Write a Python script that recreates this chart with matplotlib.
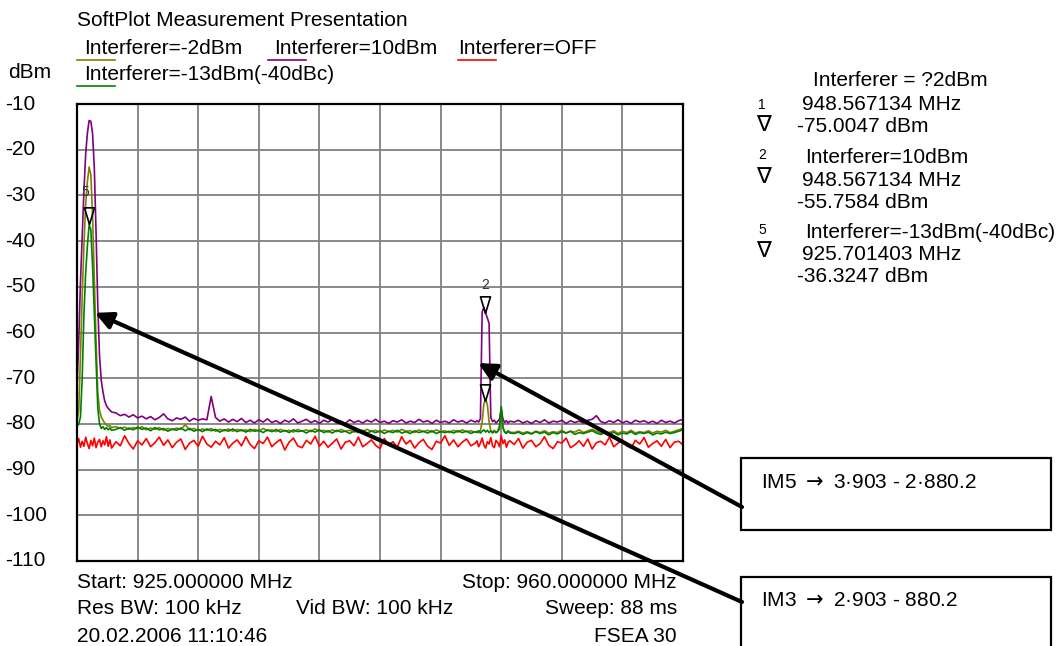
import matplotlib.pyplot as plt
import matplotlib.transforms as mtransforms
import numpy as np

plt.rcParams['font.family'] = ['Liberation Sans', 'DejaVu Sans']

# sweep points (MHz): finer steps around the two peaks
freq = np.concatenate([
    np.round(np.arange(925.0, 927.05, 0.1), 2),
    np.arange(927.25, 948.01, 0.25),
    np.round(np.arange(948.1, 950.05, 0.1), 2),
    np.arange(950.25, 960.01, 0.25),
])

trace_names = ['Interferer=-2dBm', 'Interferer=10dBm', 'Interferer=OFF', 'Interferer=-13dBm(-40dBc)']
trace_colors = ['#808000', '#800080', '#ff0000', '#008000']

# Interferer=-2dBm
olive = [
    -79.5, -77, -65, -52, -41, -32, -27, -23.8, -25.5, -34.5, -48, -62, -73, -77, -78.5, -79.2, -79.8, -80.2, -80.5, -80.4, -80.8,
    -80.6, -81.0, -80.7, -81.2, -80.8, -81.1, -80.6, -81.3, -80.9, -81.2, -80.8, -81.4, -81.0, -81.3, -80.9, -81.2,
    -80.2, -81.3, -81.0, -81.5, -81.1, -81.4, -81.0, -81.6, -81.2, -81.5, -81.1, -81.6, -81.2, -81.5, -81.3, -81.7,
    -81.2, -81.6, -81.0, -81.5, -81.3, -81.7, -81.2, -81.6, -81.4, -81.8, -81.2, -81.6, -81.3, -81.7, -81.1, -81.6,
    -81.4, -81.8, -81.3, -81.7, -81.2, -81.6, -81.4, -81.8, -81.3, -81.7, -81.2, -81.6, -81.4, -81.9, -81.3, -81.7,
    -81.4, -81.8, -81.2, -81.6, -81.5, -81.9, -81.3, -81.7, -81.4, -81.8, -81.3, -81.7, -81.5, -81.9, -81.4, -81.8,
    -81.3, -81.7, -81.5, -81.8,
    -81.6, -81.9, -81.4, -79.5, -75.6, -74.6, -75.8, -79.5, -81.5, -81.8, -81.4, -81.9, -81.5, -81.2, -76.3, -80.8,
    -81.7, -81.9, -81.5, -81.8,
    -81.9, -81.6, -82.0, -81.7, -82.1, -81.6, -81.9, -81.5, -82.0, -81.7, -81.9, -81.4, -82.0, -81.6, -81.8, -81.3,
    -81.9, -81.5, -81.2, -81.6, -82.0, -81.7, -81.9, -81.5, -82.1, -81.6, -81.9, -81.4, -82.0, -81.7, -81.9, -81.5,
    -82.0, -81.6, -81.8, -81.4, -81.9, -81.6, -81.3, -81.0,
]

# Interferer=10dBm
purple = [
    -72, -62, -49, -39, -29, -21, -16.4, -13.6, -13.8, -16.5, -24, -38, -54, -65, -70.5, -73, -75, -76, -76.6, -77, -77.4,
    -77.6, -78.2, -77.9, -78.5, -78.0, -78.7, -78.3, -78.9, -78.4, -79.1, -78.6, -77.8, -78.9, -79.3, -78.7, -79.0,
    -78.5, -79.4, -78.8, -79.2, -78.9, -79.1, -74.0, -78.6, -79.4, -78.9, -79.6, -79.0, -79.5, -78.8, -79.7, -79.2,
    -79.8, -79.1, -79.6, -78.9, -79.7, -79.3, -79.9, -79.2, -79.6, -78.9, -79.8, -79.4, -79.0, -79.7, -79.3, -79.9,
    -79.2, -79.6, -79.0, -79.8, -79.4, -79.9, -79.1, -79.7, -79.3, -79.8, -79.2, -79.6, -79.0, -79.7, -79.4, -79.9,
    -79.3, -79.6, -79.1, -79.8, -79.4, -79.7, -79.0, -79.6, -79.3, -79.9, -79.2, -79.7, -79.4, -79.8, -79.1, -79.6,
    -79.3, -79.8, -79.2, -79.6,
    -79.3, -79.6, -78.8, -55.5, -54.5, -55.8, -56.8, -58.0, -78.6, -79.5, -79.2, -79.8, -79.4, -79.0, -76.8, -78.9,
    -79.7, -79.3, -79.8, -79.4,
    -79.6, -79.2, -79.8, -79.4, -79.9, -79.3, -79.7, -79.1, -79.8, -79.4, -79.6, -79.2, -79.9, -79.3, -79.7, -79.4,
    -79.8, -79.2, -79.0, -78.2, -79.5, -79.8, -79.3, -79.7, -79.1, -79.8, -79.4, -79.9, -79.2, -79.6, -79.3, -79.8,
    -79.4, -79.9, -79.2, -79.7, -79.4, -79.8, -79.3, -79.0,
]

# Interferer=OFF
red = [
    -84.5, -83.2, -85.1, -83.8, -84.9, -82.9, -84.3, -85.4, -83.6, -84.8, -83.1, -85.2, -84.0, -83.4, -85.0, -83.7,
    -84.6, -82.8, -84.9, -83.5, -85.3,
    -83.9, -84.8, -82.6, -84.3, -85.5, -83.7, -84.6, -83.2, -85.0, -84.1, -82.9, -84.7, -83.5, -85.2, -84.0, -83.3,
    -85.6, -84.2, -83.6, -84.9, -82.7, -84.4, -85.1, -83.8, -84.6, -83.0, -85.3, -84.2, -83.5, -84.8, -82.8, -84.5,
    -85.4, -83.7, -84.3, -82.9, -85.0, -84.1, -83.4, -85.7, -84.0, -83.1, -84.8, -85.2, -83.6, -84.4, -82.7, -84.9,
    -83.8, -85.1, -84.2, -83.3, -85.5, -84.0, -83.7, -84.8, -82.9, -85.0, -84.3, -83.5, -84.7, -85.4, -83.2, -84.6,
    -83.9, -85.1, -82.8, -84.4, -83.6, -85.3, -84.1, -83.4, -84.9, -85.6, -83.8, -84.2, -82.6, -84.7, -83.5, -85.0,
    -84.0, -83.3, -84.8, -84.2,
    -83.7, -85.0, -84.2, -83.1, -84.6, -85.3, -83.9, -84.4, -83.0, -84.8, -85.2, -83.6, -84.1, -85.0, -82.6, -84.3,
    -83.5, -85.1, -84.0, -83.7,
    -84.5, -83.2, -85.3, -84.0, -83.6, -85.0, -84.3, -82.8, -84.7, -85.4, -83.9, -84.2, -83.1, -85.2, -84.6, -83.7,
    -84.9, -83.3, -85.5, -84.1, -83.8, -84.6, -82.9, -85.0, -84.2, -83.5, -84.8, -85.3, -83.6, -84.4, -83.0, -85.1,
    -84.3, -83.7, -84.9, -83.4, -85.2, -84.0, -83.8, -84.6,
]

# Interferer=-13dBm(-40dBc)
green = [
    -80.5, -80, -78.5, -70, -56, -47, -41, -36.4, -37.5, -45.5, -56, -67, -76.5, -80, -81, -80.6, -81.2, -80.8, -81.3, -80.9, -81.4,
    -81.2, -80.8, -81.4, -80.9, -81.3, -80.7, -81.2, -80.9, -81.5, -80.8, -81.3, -81.0, -81.6, -81.1, -81.4, -80.9,
    -81.5, -81.0, -81.6, -81.2, -81.7, -81.1, -81.5, -81.2, -81.8, -81.3, -81.6, -81.1, -81.7, -81.3, -81.8, -81.2,
    -81.6, -81.4, -81.9, -81.3, -81.7, -81.2, -81.8, -81.4, -81.9, -81.3, -81.7, -81.5, -82.0, -81.4, -81.8, -81.3,
    -81.9, -81.5, -82.0, -81.4, -81.8, -81.6, -82.1, -81.5, -81.9, -81.4, -82.0, -81.6, -81.9, -81.5, -82.1, -81.6,
    -81.9, -81.4, -82.0, -81.7, -82.1, -81.5, -81.9, -81.6, -82.0, -81.5, -82.1, -81.7, -81.9, -81.6, -82.0, -81.5,
    -81.9, -81.6, -82.1, -81.7,
    -81.9, -81.5, -82.0, -81.6, -81.3, -81.8, -81.4, -81.9, -81.5, -82.0, -81.6, -81.9, -81.7, -80.5, -76.2, -80.9,
    -81.8, -82.1, -81.6, -82.0,
    -82.1, -81.8, -82.3, -81.9, -82.2, -81.7, -82.1, -81.8, -82.4, -81.9, -82.2, -81.7, -82.0, -81.6, -82.3, -81.9,
    -82.1, -81.8, -81.5, -82.0, -82.3, -81.9, -82.2, -81.8, -82.4, -82.0, -82.2, -81.7, -82.3, -81.9, -82.1, -81.8,
    -82.4, -82.0, -82.2, -81.8, -82.1, -81.9, -81.6, -81.3,
]

y_ticks = list(range(-10, -111, -10))

# markers: (label, MHz, dBm)
markers = [('1', 948.567134, -75.0047), ('2', 948.567134, -55.7584), ('5', 925.701403, -36.3247)]

W, H = 1063, 646
fig = plt.figure(figsize=(W / 100, H / 100), dpi=100)
ax = fig.add_axes([77 / W, 1 - 561 / H, 606 / W, 457 / H])


def fp(x, y):
    # figure fraction from pixel position (top-left origin)
    return x / W, 1 - y / H


for vals, c in zip([olive, purple, red, green], trace_colors):
    ax.plot(freq, vals, color=c, lw=1.2)

ax.set_xlim(925, 960)
ax.set_ylim(-110, -10)
ax.set_xticks(np.linspace(925, 960, 11))
ax.set_yticks(y_ticks)
ax.grid(True, color='#808080', lw=1.3)
ax.set_axisbelow(True)
ax.tick_params(length=0, labelbottom=False, labelleft=False)
for s in ax.spines.values():
    s.set_linewidth(1.6)

# y labels at the far left
tr = mtransforms.blended_transform_factory(fig.transFigure, ax.transData)
for t in y_ticks:
    fig.text(5 / W, t, str(t), transform=tr, ha='left', va='center', fontsize=15)
fig.text(*fp(8, 73), 'dBm', ha='left', va='center', fontsize=15)

# marker triangles (tip on trace)
tri = [(0, 0), (-0.6, 2), (0.6, 2), (0, 0)]
for lab, f, d in markers:
    ax.plot(f, d, marker=tri, markersize=24, markerfacecolor='none', markeredgecolor='black',
            markeredgewidth=1.2, zorder=5)
ax.text(925.49, -29.3, '5', fontsize=10, ha='center', va='center', color='#333333')
ax.text(948.55, -49.6, '2', fontsize=10, ha='center', va='center', color='#333333')

# title + legend
fig.text(*fp(77, 20), 'SoftPlot Measurement Presentation', ha='left', va='center', fontsize=15)
legend_pos = [(77, 84, 49), (268, 274, 49), (458, 458, 49), (77, 84, 75)]
for (ux, tx, ty), name, c in zip(legend_pos, trace_names, trace_colors):
    fig.text(*fp(tx, ty), name, ha='left', va='center', fontsize=15)
    fig.add_artist(plt.Line2D([ux / W, (ux + 38) / W], [1 - (ty + 11) / H] * 2, color=c, lw=1.2))

# marker readout on the right
fig.text(*fp(813, 80), 'Interferer = ?2dBm', ha='left', va='center', fontsize=15)
readout = [
    ('1', 105, 125, [(802, 105, '948.567134 MHz'), (797, 127, '-75.0047 dBm')]),
    ('2', 155, 177, [(805, 158, 'Interferer=10dBm'), (802, 180, '948.567134 MHz'), (797, 202, '-55.7584 dBm')]),
    ('5', 230, 251, [(805, 233, 'Interferer=-13dBm(-40dBc)'), (802, 254, '925.701403 MHz'), (797, 276, '-36.3247 dBm')]),
]
for num, ny, ty, lines in readout:
    fig.text(*fp(762, ny), num, ha='center', va='center', fontsize=10)
    fig.text(*fp(763, ty), '\u2207', ha='center', va='center', fontsize=16, family='DejaVu Sans')
    for x, y, s in lines:
        fig.text(*fp(x, y), s, ha='left', va='center', fontsize=15)

# bottom settings
fig.text(*fp(77, 582), 'Start: 925.000000 MHz', ha='left', va='center', fontsize=15)
fig.text(*fp(677, 582), 'Stop: 960.000000 MHz', ha='right', va='center', fontsize=15)
fig.text(*fp(77, 609), 'Res BW: 100 kHz', ha='left', va='center', fontsize=15)
fig.text(*fp(296, 609), 'Vid BW: 100 kHz', ha='left', va='center', fontsize=15)
fig.text(*fp(677, 609), 'Sweep: 88 ms', ha='right', va='center', fontsize=15)
fig.text(*fp(77, 636), '20.02.2006 11:10:46', ha='left', va='center', fontsize=15)
fig.text(*fp(677, 636), 'FSEA 30', ha='right', va='center', fontsize=15)

# IM boxes
for top, bottom, ty, s in [(458, 530, 483, 'IM5 $\\rightarrow$ 3\u00b7903 - 2\u00b7880.2'),
                           (577, 660, 601, 'IM3 $\\rightarrow$ 2\u00b7903 - 880.2')]:
    fig.add_artist(plt.Rectangle(fp(741, bottom), 310 / W, (bottom - top) / H, fill=False,
                                 ec='black', lw=1.6, clip_on=False))
    fig.text(*fp(761, ty), s, ha='left', va='center', fontsize=15)

# arrows from the boxes to the intermod products
arrow_kw = dict(arrowstyle='-|>', lw=3, color='black', mutation_scale=26, shrinkA=0, shrinkB=0)
ax.annotate('', xy=(926.04, -55.7), xycoords='data', xytext=(742, H - 602),
            textcoords='figure pixels', arrowprops=arrow_kw, annotation_clip=False)
ax.annotate('', xy=(948.18, -66.7), xycoords='data', xytext=(742, H - 507),
            textcoords='figure pixels', arrowprops=arrow_kw, annotation_clip=False)

fig.savefig('out.png', dpi=100)
